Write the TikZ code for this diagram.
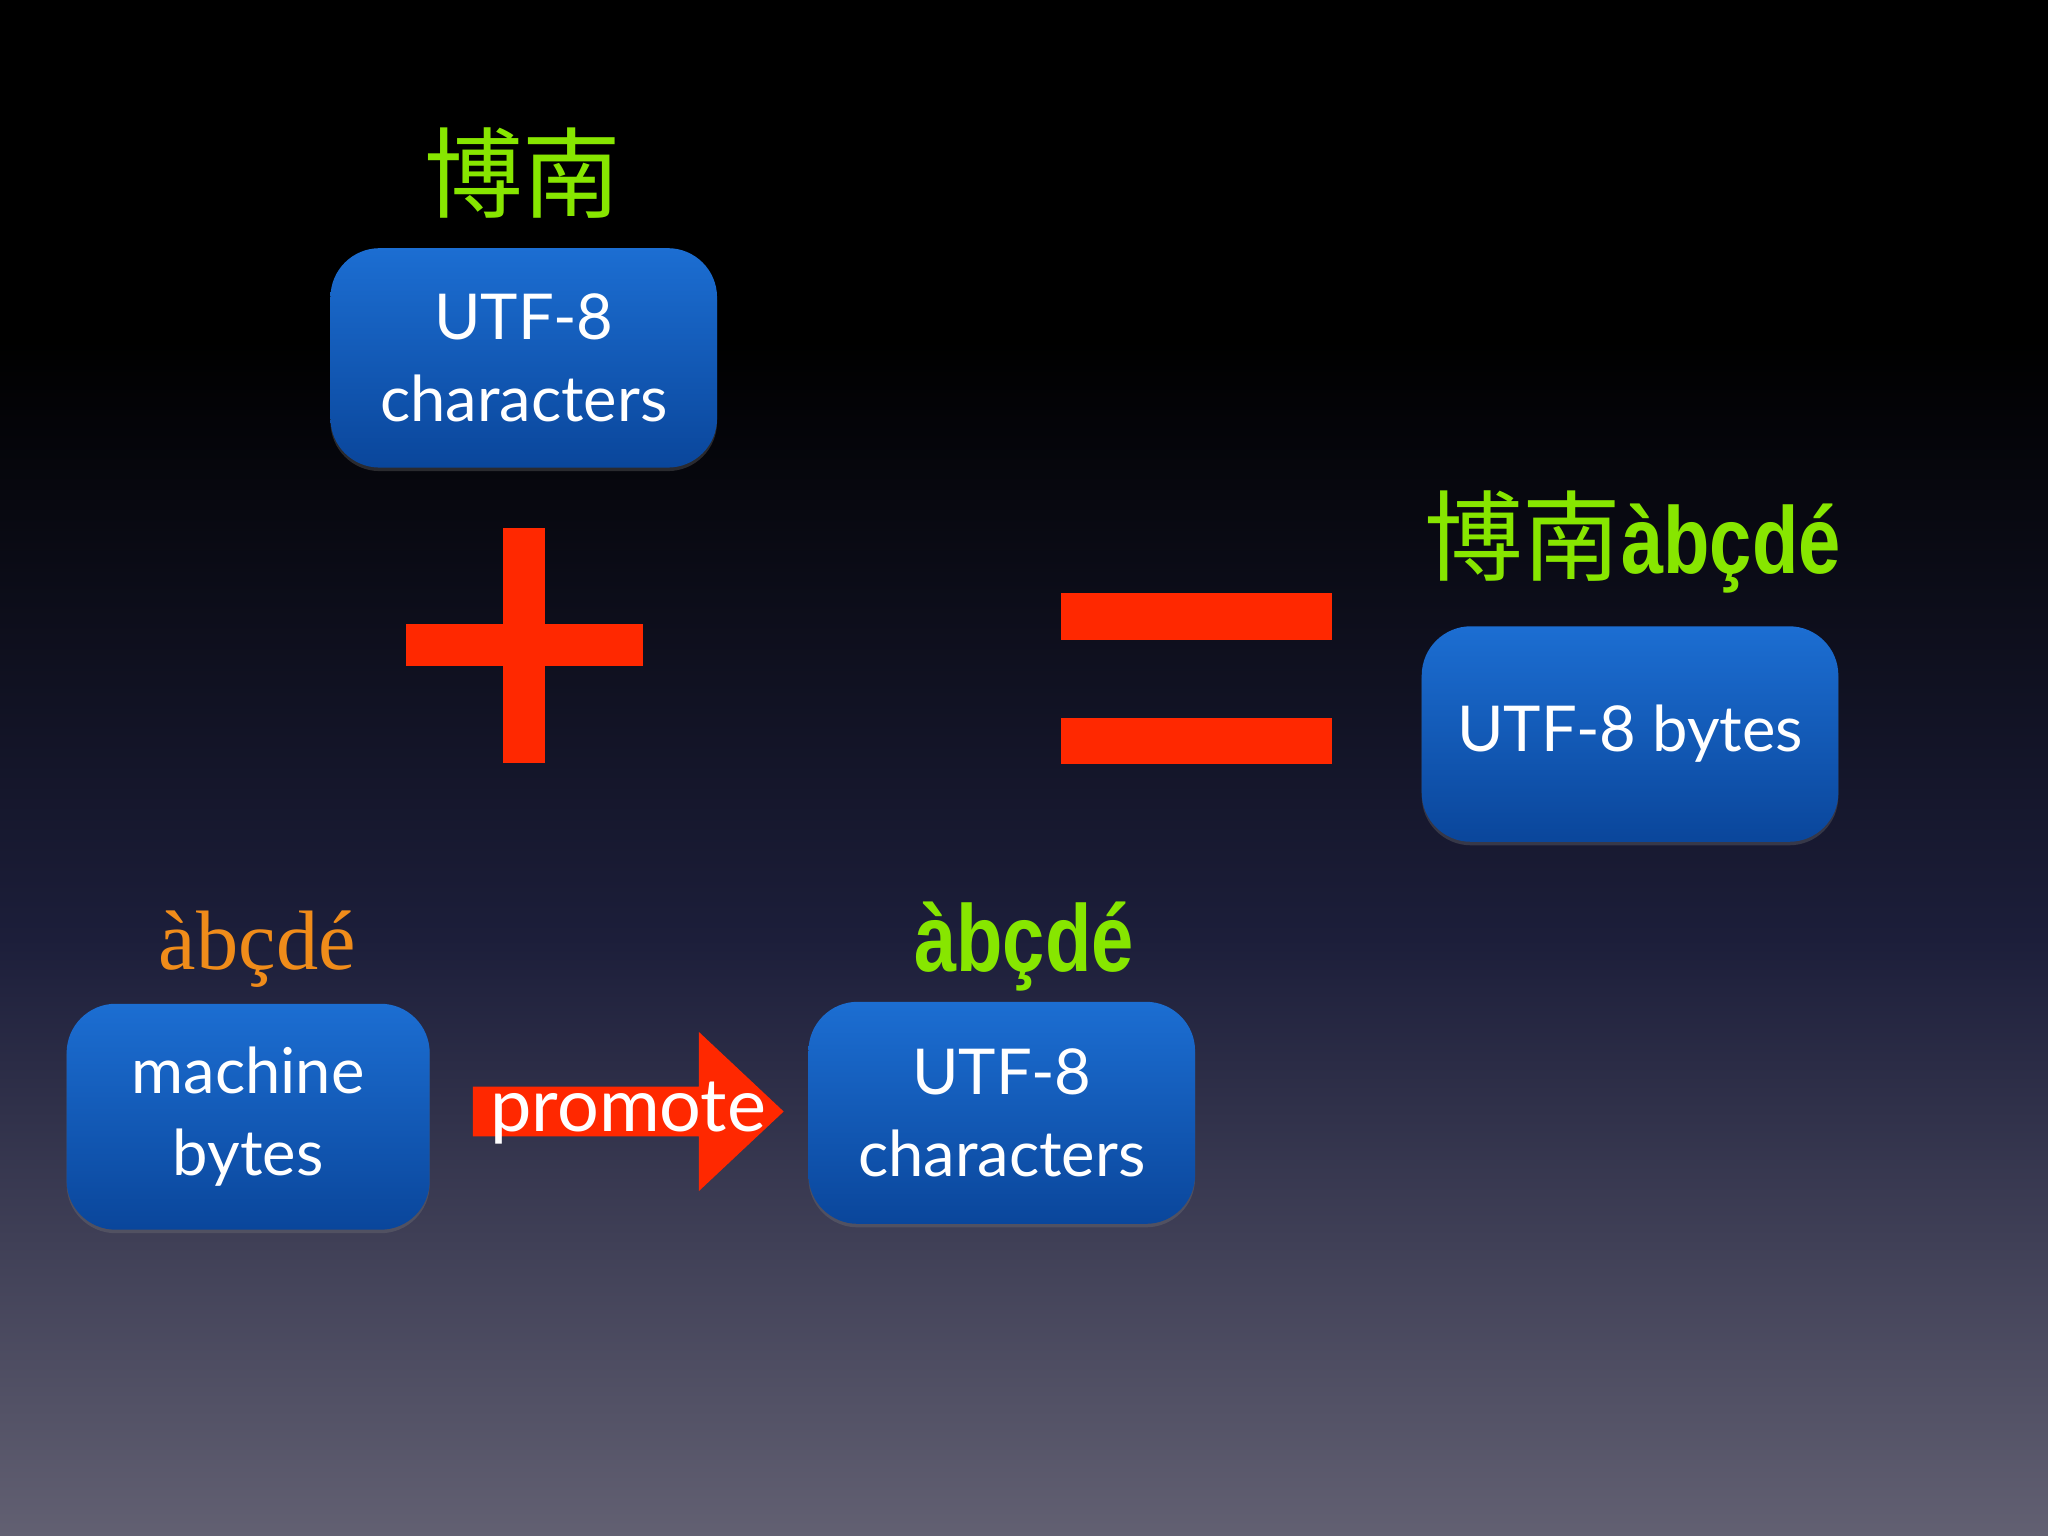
\documentclass[tikz,border=0pt]{standalone}
\usepackage{fontspec}
\setmainfont{Lato}
\newfontfamily\cjk{Noto Sans CJK SC}
\newfontfamily\serifx{Liberation Serif}
\newfontfamily\condx{Liberation Sans}
\usetikzlibrary{shadows}
\definecolor{grn}{RGB}{135,230,0}
\definecolor{org}{RGB}{240,140,26}
\definecolor{redx}{RGB}{255,40,0}
\definecolor{btop}{RGB}{28,110,210}
\definecolor{bbot}{RGB}{10,70,155}
\tikzset{
  bluebox/.style={rounded corners=14pt, top color=btop, bottom color=bbot, draw=none,
    drop shadow={shadow xshift=0pt, shadow yshift=-1pt, opacity=0.3},
    text=white, align=center, font=\fontsize{18}{23.5}\selectfont, inner sep=0pt},
  cond/.style={font=\condx\bfseries\fontsize{27}{30}\selectfont, xscale=0.8, text=grn},
}
\begin{document}
\begin{tikzpicture}[x=0.013061cm,y=-0.013061cm]
\useasboundingbox (0,0) rectangle (1568,1176);
\shade[top color=black, bottom color={rgb,255:red,98;green,96;blue,114}, middle color={rgb,255:red,28;green,30;blue,58}] (0,260) rectangle (1568,1176);
\fill[black] (0,0) rectangle (1568,262);
% boxes
\node[bluebox, minimum width=296*0.013061cm, minimum height=168*0.013061cm] (top) at (401,274) {UTF-8\\characters};
\node[bluebox, minimum width=319*0.013061cm, minimum height=165*0.013061cm] (right) at (1248,562) {UTF-8 bytes};
\node[bluebox, minimum width=278*0.013061cm, minimum height=173*0.013061cm] (mach) at (190,855) {machine\\bytes};
\node[bluebox, minimum width=296*0.013061cm, minimum height=170*0.013061cm] (mid) at (767,852) {UTF-8\\characters};
% labels
\node[text=grn, font=\cjk\fontsize{28}{30}\selectfont, anchor=south] (l1) at (400,177) {博南};
\node[anchor=south, inner sep=0pt] (l2) at (1250,455) {\textcolor{grn}{\cjk\fontsize{28}{30}\selectfont 博南}\tikz[baseline]\node[cond,inner sep=0pt,anchor=base]{àbçdé};};
\node[text=org, font=\serifx\fontsize{24}{30}\selectfont, anchor=base] (l3) at (197,742) {àbçdé};
\node[cond, anchor=base] (l4) at (784,744) {àbçdé};
% plus
\fill[redx] (385,404) rectangle (417,584);
\fill[redx] (311,478) rectangle (492,510);
% equals
\fill[redx] (812,454) rectangle (1020,490);
\fill[redx] (812,550) rectangle (1020,585);
% arrow
\fill[redx] (362,832) -- (535,832) -- (535,790) -- (600,851) -- (535,912) -- (535,870) -- (362,870) -- cycle;
\node[text=white, font=\fontsize{21}{30}\selectfont, anchor=base] (prom) at (481,866) {promote};
\end{tikzpicture}
\end{document}
